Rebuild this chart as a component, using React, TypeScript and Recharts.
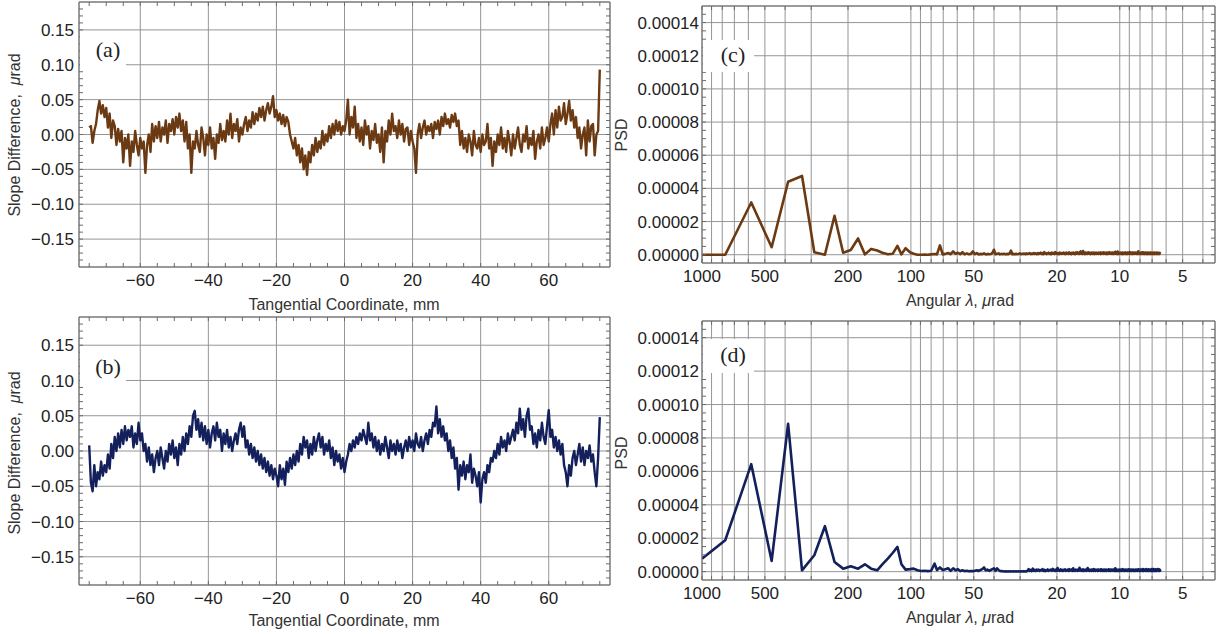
import React from "react";
import { LineChart, Line, XAxis, YAxis, CartesianGrid } from "recharts";

// slope difference profiles, sampled every 0.5 mm from -75 mm
const X_START = -75;
const X_STEP = 0.5;

const slopeA = [
  0.01, 0.012, -0.012, 0.005, 0.015, 0.035, 0.048, 0.03, 0.042, 0.025,
  0.038, 0.01, 0.03, -0.005, 0.02, 0.012, -0.015, 0.008, -0.01, 0.005,
  -0.04, -0.005, -0.02, 0, -0.045, -0.01, -0.025, 0.005, -0.015, -0.03,
  -0.005, -0.02, -0.01, -0.055, -0.015, 0, -0.025, 0.015, -0.01, 0.012,
  -0.005, 0.018, -0.01, 0.01, 0, 0.02, -0.012, 0.015, 0.005, 0.022,
  0, 0.025, 0.01, 0.03, 0.005, 0.02, -0.01, 0.018, -0.02, 0,
  -0.055, -0.01, -0.02, 0.005, -0.015, -0.025, 0.01, -0.005, -0.03, 0,
  -0.015, 0.01, -0.02, -0.005, -0.035, 0, -0.012, 0.015, -0.008, 0.005,
  -0.01, 0.02, 0, 0.03, -0.005, 0.015, 0.005, 0.022, -0.01, 0.01,
  0, 0.015, 0.025, 0.005, 0.02, 0.01, 0.032, 0.015, 0.03, 0.02,
  0.038, 0.025, 0.04, 0.02, 0.035, 0.045, 0.03, 0.04, 0.055, 0.025,
  0.035, 0.02, 0.03, 0.015, 0.028, 0.012, 0.025, 0.018, 0, -0.01,
  -0.02, -0.005, -0.03, -0.015, -0.04, -0.02, -0.05, -0.03, -0.058, -0.025,
  -0.04, -0.015, -0.03, -0.005, -0.025, -0.01, -0.02, 0.005, -0.015, 0,
  -0.01, 0.012, -0.005, 0.015, 0, 0.02, 0.005, 0.018, 0, 0.012,
  0.005, 0.02, 0.05, 0, 0.025, 0.01, 0.04, -0.005, 0.015, -0.01,
  0.01, -0.015, 0.02, 0, 0.012, -0.02, 0.005, -0.008, 0.015, -0.012,
  0, -0.025, 0.01, -0.04, 0.005, -0.01, 0.02, 0, 0.03, 0.005,
  0.012, -0.005, 0.02, 0, 0.015, -0.01, 0.008, 0.01, -0.015, 0.005,
  -0.01, -0.02, -0.055, 0, 0.015, -0.005, 0.01, 0.02, 0, 0.012,
  0.005, 0.015, -0.005, 0.018, 0.008, 0.02, 0, 0.025, 0.012, 0.03,
  0.015, 0.022, 0.01, 0.028, 0.018, 0.03, 0.012, 0.02, -0.015, 0.005,
  -0.02, -0.005, -0.025, 0, -0.01, -0.03, 0.005, -0.015, -0.02, -0.005,
  -0.025, 0, -0.015, -0.01, 0.015, -0.02, -0.005, -0.045, -0.01, -0.025,
  0, -0.015, 0.01, -0.02, -0.005, -0.025, 0.005, -0.01, -0.03, 0,
  -0.02, -0.005, 0.01, -0.015, -0.025, 0, -0.01, 0.012, -0.02, -0.005,
  -0.015, 0.005, -0.035, -0.01, 0, -0.02, 0.01, -0.015, -0.005, 0.01,
  -0.01, 0.015, 0.03, 0, 0.035, 0.01, 0.04, 0.02, 0.025, 0.045,
  0.015, 0.03, 0.048, 0.02, 0.035, 0.01, 0.025, -0.005, 0.01, -0.02,
  0, 0.01, -0.03, 0.02, -0.01, 0.012, 0.015, -0.03, 0, 0.005,
  0.093,
];

const slopeB = [
  0.008, -0.045, -0.057, -0.02, -0.05, -0.03, -0.04, -0.015, -0.035, -0.02,
  -0.03, -0.005, -0.025, 0.01, -0.01, 0.02, 0, 0.025, 0.005, 0.03,
  0.01, 0.035, 0.015, 0.03, 0.02, 0.035, 0.005, 0.025, 0.01, 0.04,
  0.015, 0.025, 0, 0.01, -0.015, 0.005, -0.02, -0.005, -0.03, -0.01,
  0, -0.02, 0.005, -0.01, -0.025, 0, -0.015, 0.01, -0.005, 0.015,
  -0.01, 0.005, -0.02, 0.01, -0.005, 0.02, 0, 0.025, 0.01, 0.035,
  0.02, 0.05, 0.057, 0.03, 0.045, 0.02, 0.04, 0.015, 0.035, 0.01,
  0.03, 0.005, 0.025, 0.035, 0.015, 0.04, 0.02, 0.03, 0, 0.025,
  0.01, 0.03, 0.005, 0.02, 0, 0.015, 0.025, 0.01, 0.03, 0.04,
  0.02, 0.035, 0.005, 0.015, -0.005, 0.01, -0.01, 0.005, -0.015, 0,
  -0.02, -0.005, -0.025, -0.01, -0.03, -0.015, -0.035, -0.02, -0.04, -0.025,
  -0.035, -0.05, -0.02, -0.04, -0.025, -0.048, -0.015, -0.03, -0.01, -0.025,
  -0.005, -0.02, 0, -0.015, 0.01, -0.005, 0.02, 0.005, 0.015, -0.01,
  0.01, -0.005, 0.02, 0, 0.015, 0.025, 0.005, 0.02, -0.005, 0.01,
  0, 0.015, -0.01, 0.005, -0.02, 0, -0.015, -0.005, -0.025, -0.01,
  -0.03, -0.015, -0.005, 0.01, 0, 0.015, 0.005, 0.02, 0.01, 0.025,
  0.015, 0.03, 0.02, 0.01, 0.04, 0.015, 0.025, 0.005, 0.02, 0,
  0.015, -0.005, 0.01, 0, 0.02, 0.005, -0.01, 0.015, 0, 0.01,
  -0.005, 0.015, 0, 0.01, -0.01, 0.005, 0.015, 0, 0.02, 0.005,
  0.015, 0, 0.025, 0.01, 0.005, 0.02, 0, 0.015, 0.025, 0.01,
  0.03, 0.02, 0.04, 0.035, 0.063, 0.025, 0.045, 0.02, 0.035, 0.015,
  0.025, 0, 0.015, -0.01, 0.005, -0.025, -0.01, -0.055, -0.02, -0.035,
  -0.015, -0.04, -0.02, -0.03, -0.005, -0.045, -0.025, -0.035, -0.05, -0.03,
  -0.073, -0.04, -0.03, -0.045, -0.02, -0.03, -0.01, -0.015, 0, -0.01,
  0.01, -0.005, 0.02, 0.005, 0.015, 0, 0.025, 0.01, 0.02, 0.03,
  0.015, 0.04, 0.025, 0.06, 0.03, 0.045, 0.02, 0.05, 0.06, 0.03,
  0.035, 0.01, 0.025, 0.005, 0.03, 0.015, 0.04, 0.02, 0.01, 0.035,
  0.058, 0.02, 0.03, 0.005, 0.02, 0, 0.015, -0.005, 0.01, -0.02,
  -0.03, -0.05, -0.02, -0.035, -0.01, 0, -0.02, -0.005, 0.01, -0.015,
  0.005, -0.02, 0, -0.01, 0.008, -0.015, -0.005, -0.03, -0.05, -0.01,
  0.048,
];

// PSD spectra (values in units of 1e-6), first points read individually
const LAMBDA_HEAD = [
  1000, 774, 581, 464, 387, 332, 290, 258, 232, 211, 194, 179, 166, 155, 145, 137,
  129, 122, 116, 111, 106, 101, 97, 93, 89, 86, 83, 80, 77, 75, 72.6, 70.4,
];
const psdCHead = [
  0, 0, 31.5, 4.5, 44, 47.5, 1.5, 0, 23.5, 1.2, 2.8, 9.8, 0.2, 3.5, 2.5, 1.2,
  0.3, 0.6, 5.3, 0.2, 3.9, 1.5, 0.6, 0, 0, 0.1, 0, 0.2, 0.4, 0.2, 5.6, 0.2,
];
const psdDHead = [
  7.8, 18.8, 64.3, 6.4, 88.5, 0.8, 9.8, 27.2, 5.8, 1.8, 3.2, 1.8, 4.4, 1.8, 0.8, 4.3,
  7.8, 11.3, 14.8, 4.4, 1.2, 1.5, 1.8, 0.8, 0.4, 0.5, 0.3, 0.5, 4.8, 1, 2.5, 1,
];

// tail: harmonics k = 34 .. 363 of the base wavelength
const LAMBDA_BASE = 2322;
const TAIL_K0 = 34;
const psdCTail = [
  0.5, 1, 0.3, 2, 0.5, 1.2, 0.3, 1.5, 0.2, 0.8, 0.3, 0.5, 2, 0.3, 1, 0.2, 0.5, 0.3, 0.8, 0.2, 0.5, 0.3, 0.4, 1, 3, 0.3, 0.5, 0.8, 0.2, 0.5,
  0.3, 0.6, 0.2, 0.5, 0.3, 0.8, 2.5, 0.3, 0.5, 0.2, 0.6, 0.3, 0.5, 0.8, 0.3, 0.6, 0.4, 0.7, 0.3, 0.8, 0.4, 0.6, 1, 0.3, 0.7, 0.4, 1, 0.5, 0.8, 0.3,
  1, 0.4, 0.8, 1.2, 0.5, 1, 0.3, 1.5, 0.6, 1, 0.4, 0.8, 1.2, 0.5, 0.9, 0.3, 1.3, 0.6, 1, 0.4, 1.5, 0.7, 1.1, 0.5, 1, 0.3, 1.2, 0.6, 1, 0.5,
  0.9, 1.3, 0.5, 1, 0.4, 1.2, 0.7, 1, 0.5, 1.4, 0.6, 0.9, 0.3, 1.1, 0.7, 1.3, 0.5, 1, 0.4, 1.2, 0.6, 1.5, 0.8, 1, 0.5, 1.2, 0.7, 2, 0.6, 1,
  0.5, 2.2, 0.8, 1, 0.4, 1.3, 0.7, 1, 0.5, 1.2, 0.6, 1.4, 0.8, 1, 0.4, 1.1, 0.7, 1.3, 0.5, 1, 0.6, 1.2, 0.4, 1, 0.8, 1.3, 0.5, 1, 0.6, 1.1,
  0.5, 1.2, 0.7, 1, 0.4, 1.3, 0.6, 1, 0.8, 1.2, 0.5, 1.4, 0.7, 1, 0.5, 1.1, 0.6, 1.3, 0.4, 1, 0.8, 1.2, 0.5, 1.5, 0.6, 1, 0.7, 1.2, 0.5, 1,
  0.6, 1.3, 0.4, 1, 0.7, 1.2, 0.5, 1.8, 0.6, 1, 0.8, 1.1, 0.4, 1.9, 0.7, 1, 0.5, 1.2, 0.6, 1, 0.8, 1.3, 0.5, 1, 0.7, 1.2, 0.4, 1.1, 0.6, 1,
  0.5, 1.2, 0.7, 1.4, 0.5, 1, 0.8, 1.1, 0.4, 1.3, 0.6, 1, 0.7, 1.2, 0.5, 1.6, 0.6, 1, 0.8, 1.2, 0.5, 1.1, 0.7, 1.3, 0.4, 1, 0.8, 1.2, 0.6, 1,
  0.5, 1.3, 0.7, 1, 0.6, 1.2, 0.4, 1.1, 0.8, 1.3, 0.5, 2, 0.6, 1, 0.7, 1.2, 0.5, 1, 0.8, 1.1, 0.4, 1.3, 0.6, 1, 0.7, 1.5, 0.5, 1, 0.8, 1.2,
  0.4, 1, 0.7, 1.3, 0.5, 1.1, 0.6, 1.2, 0.8, 1, 0.4, 1.3, 0.6, 1, 0.7, 1.1, 0.5, 1.2, 0.8, 1, 0.4, 1.3, 0.6, 1, 0.7, 1.2, 0.5, 1, 0.8, 1.1,
  0.4, 1.2, 0.6, 1, 0.7, 1.3, 0.5, 1.1, 0.8, 1, 0.4, 1.2, 0.6, 0.9, 0.7, 1.3, 0.5, 1, 0.8, 1.1, 0.4, 1.2, 0.6, 1, 0.7, 1.1, 0.5, 1, 0.8, 0.6,
];
const psdDTail = [
  1.5, 2, 0.5, 2, 0.8, 1.5, 0.3, 0.8, 0.3, 0.5, 0.2, 0.4, 0.3, 0.5, 0.8, 0.4, 1, 1.5, 2.5, 0.8, 1.2, 0.5, 1, 1.5, 2, 0.5, 2, 1, 0.4, 0.3,
  0.2, 0.1, 0.2, 0.1, 0.2, 0.1, 0.2, 0.1, 0.2, 0.1, 0.2, 0.1, 0.2, 0.1, 0.2, 0.1, 0.3, 0.1, 0.2, 0.1, 0.5, 1.5, 0.4, 1, 0.3, 1.8, 0.5, 1, 0.4, 1.2,
  0.6, 1.2, 0.4, 1, 0.7, 1.5, 0.5, 1.1, 0.3, 0.9, 0.6, 1.3, 0.4, 1, 0.8, 1.2, 0.5, 1.6, 0.7, 1, 0.4, 1.2, 0.6, 2.2, 0.8, 1, 0.5, 1.3, 0.6, 1,
  0.4, 1.1, 0.7, 1.4, 0.5, 1, 0.8, 1.2, 0.4, 1.5, 0.6, 1, 0.7, 1.3, 0.5, 2, 0.6, 1.1, 0.4, 1.2, 0.8, 1, 0.5, 1.4, 0.6, 2.3, 0.7, 1, 0.5, 1.2,
  0.6, 1.3, 0.4, 1, 0.8, 1.1, 0.5, 1.4, 0.7, 2.1, 0.6, 1, 0.4, 1.2, 0.8, 1, 0.5, 1.3, 0.6, 1.1, 0.4, 1.5, 0.7, 1, 0.5, 1.2, 0.8, 1, 0.4, 1.3,
  0.6, 1, 0.7, 1.2, 0.5, 1.4, 0.8, 1, 0.4, 1.1, 0.6, 1.3, 0.5, 1, 0.7, 1.2, 0.4, 1, 0.8, 1.1, 0.6, 1.4, 0.5, 1, 0.7, 1.2, 0.4, 1.3, 0.6, 1,
  0.8, 1.2, 0.5, 1, 0.6, 1.3, 0.4, 2, 0.7, 1, 0.5, 1.2, 0.8, 1, 0.4, 1.1, 0.6, 1.3, 0.5, 1, 0.7, 1.2, 0.4, 1, 0.8, 1.5, 0.6, 1, 0.5, 1.2,
  0.7, 1, 0.4, 1.3, 0.6, 1.1, 0.8, 1, 0.5, 1.2, 0.4, 1, 0.7, 1.4, 0.6, 1, 0.5, 1.2, 0.8, 1, 0.4, 1.3, 0.6, 1.1, 0.7, 1, 0.5, 1.2, 0.8, 1,
  0.4, 1.1, 0.6, 1.3, 0.5, 1, 0.7, 1.2, 0.4, 1, 0.8, 1.4, 0.6, 1, 0.5, 1.2, 0.7, 1, 0.4, 1.3, 0.6, 1.1, 0.8, 1, 0.5, 1.6, 0.7, 1, 0.4, 1.2,
  0.6, 1, 0.8, 1.3, 0.5, 1.1, 0.4, 1.5, 0.7, 1, 0.6, 1.2, 0.5, 1, 0.8, 1.4, 0.4, 1.1, 0.6, 1, 0.7, 1.3, 0.5, 1, 0.8, 1.2, 0.4, 1.5, 0.6, 1,
  0.5, 1.2, 0.7, 1.6, 0.4, 1, 0.8, 1.3, 0.6, 1, 0.5, 1.4, 0.7, 1.1, 0.4, 1.2, 0.6, 1, 0.8, 1.5, 0.5, 1.1, 0.7, 1, 0.4, 1.3, 0.6, 1.2, 0.5, 1,
];

// ticks
const MM_TICKS = [-60, -40, -20, 0, 20, 40, 60];
const MM_ALL = [-75, -70, -65, -60, -55, -50, -45, -40, -35, -30, -25, -20, -15, -10, -5, 0, 5, 10, 15, 20, 25, 30, 35, 40, 45, 50, 55, 60, 65, 70, 75];
const SLOPE_TICKS = [-0.15, -0.1, -0.05, 0, 0.05, 0.1, 0.15];
const SLOPE_ALL = [
  -0.18, -0.17, -0.16, -0.15, -0.14, -0.13, -0.12, -0.11, -0.1, -0.09, -0.08, -0.07, -0.06, -0.05, -0.04, -0.03, -0.02, -0.01, 0,
  0.01, 0.02, 0.03, 0.04, 0.05, 0.06, 0.07, 0.08, 0.09, 0.1, 0.11, 0.12, 0.13, 0.14, 0.15, 0.16, 0.17, 0.18,
];
const LAMBDA_TICKS = [1000, 500, 200, 100, 50, 20, 10, 5];
const LAMBDA_GRID = [1000, 900, 800, 700, 600, 500, 400, 300, 200, 100, 90, 80, 70, 60, 50, 40, 30, 20, 10, 9, 8, 7, 6, 5, 4];
const PSD_TICKS = [0, 20, 40, 60, 80, 100, 120, 140];
const PSD_ALL = [0, 5, 10, 15, 20, 25, 30, 35, 40, 45, 50, 55, 60, 65, 70, 75, 80, 85, 90, 95, 100, 105, 110, 115, 120, 125, 130, 135, 140, 145];

const BROWN = "#6b3912";
const NAVY = "#13205c";
const GRID = "#959595";
const FRAME = "#6a6a6a";
const FONT = '"Liberation Sans", Arial, sans-serif';
const SERIF = '"Liberation Serif", "Times New Roman", serif';

const slopeData = (vals: number[]) => vals.map((y, i) => ({ x: X_START + i * X_STEP, y }));
const psdData = (head: number[], tail: number[]) => [
  ...head.map((y, i) => ({ x: LAMBDA_HEAD[i], y })),
  ...tail.map((y, i) => ({ x: LAMBDA_BASE / (TAIL_K0 + i), y })),
];

const near = (list: number[], v: number) => list.some((t) => Math.abs(t - v) < 1e-9);
const minus = (s: string) => s.replace("-", "\u2212");
const fmtMM = (v: number) => (near(MM_TICKS, v) ? minus(String(v)) : "");
const fmtSlope = (v: number) => (near(SLOPE_TICKS, v) ? minus(Math.abs(v) < 1e-9 ? "0.00" : v.toFixed(2)) : "");
const fmtPsd = (v: number) => (near(PSD_TICKS, v) ? (v * 1e-6).toFixed(5) : "");
const fmtLambda = (v: number) => (near(LAMBDA_TICKS, v) ? String(v) : "");
const blank = () => "";

const tickText = { fontSize: 17, fill: "#222", fontFamily: FONT };
const AX_H = 30; // height of the labelled bottom axis
const AX_W = 60; // width of the labelled left axis

interface PanelProps {
  left: number;
  top: number;
  width: number;
  height: number;
  frame: { top: number; right: number; bottom: number; left: number };
  data: { x: number; y: number }[];
  color: string;
  strokeWidth: number;
  log?: boolean;
  xDomain: [number, number];
  yDomain: [number, number];
  xAll: number[];
  xGrid: number[];
  yAll: number[];
  yGrid: number[];
  xFormat: (v: number) => string;
  yFormat: (v: number) => string;
  yGap: number;
}

function Panel(p: PanelProps) {
  const xCommon = {
    dataKey: "x",
    type: "number" as const,
    scale: p.log ? ("log" as const) : ("linear" as const),
    domain: p.xDomain,
    allowDataOverflow: true,
    reversed: !!p.log,
    interval: 0 as const,
    stroke: FRAME,
  };
  const yCommon = {
    type: "number" as const,
    domain: p.yDomain,
    allowDataOverflow: true,
    interval: 0 as const,
    stroke: FRAME,
  };
  // margins are the frame insets minus the space the visible axes take
  const margin = {
    top: p.frame.top - 1,
    right: p.frame.right - 1,
    bottom: p.frame.bottom - AX_H,
    left: p.frame.left - AX_W,
  };
  return (
    <div style={{ position: "absolute", left: p.left, top: p.top }}>
      <LineChart width={p.width} height={p.height} data={p.data} margin={margin}>
        <CartesianGrid xAxisId="xg" yAxisId="yg" stroke={GRID} strokeWidth={1} fill="none" />
        <XAxis {...xCommon} xAxisId="xl" height={AX_H} ticks={p.xAll} tickSize={-4} tickMargin={11} tick={tickText} tickFormatter={p.xFormat} />
        <XAxis {...xCommon} xAxisId="xg" height={0} ticks={p.xGrid} />
        <XAxis {...xCommon} xAxisId="xt" orientation="top" height={1} ticks={p.xAll} tickSize={-4} tickFormatter={blank} />
        <YAxis {...yCommon} yAxisId="yl" width={AX_W} ticks={p.yAll} tickSize={-4} tickMargin={p.yGap + 4} tick={tickText} tickFormatter={p.yFormat} />
        <YAxis {...yCommon} yAxisId="yg" width={0} ticks={p.yGrid} />
        <YAxis {...yCommon} yAxisId="yr" orientation="right" width={1} ticks={p.yAll} tickSize={-4} tickFormatter={blank} />
        <Line
          xAxisId="xl"
          yAxisId="yl"
          type="linear"
          dataKey="y"
          stroke={p.color}
          strokeWidth={p.strokeWidth}
          strokeLinejoin="round"
          dot={false}
          isAnimationActive={false}
        />
      </LineChart>
    </div>
  );
}

const titleStyle: React.CSSProperties = {
  position: "absolute",
  fontFamily: FONT,
  fontSize: 16,
  color: "#333",
  whiteSpace: "nowrap",
  transform: "translate(-50%, -50%)",
};

function Title({ x, y, rotate, children }: { x: number; y: number; rotate?: boolean; children: React.ReactNode }) {
  return (
    <div style={{ ...titleStyle, left: x, top: y, transform: rotate ? "translate(-50%, -50%) rotate(-90deg)" : titleStyle.transform }}>
      {children}
    </div>
  );
}

function Tag({ box, x, y, text }: { box: [number, number, number, number]; x: number; y: number; text: string }) {
  return (
    <>
      <div style={{ position: "absolute", left: box[0], top: box[1], width: box[2], height: box[3], background: "#fff" }} />
      <div style={{ ...titleStyle, left: x, top: y, fontFamily: SERIF, fontSize: 22, color: "#222" }}>{text}</div>
    </>
  );
}

const slopeTitle = (
  <>
    Slope Difference,{"\u00a0\u00a0"}
    <i>μ</i>rad
  </>
);
const lambdaTitle = (
  <>
    Angular <i>λ</i>, <i>μ</i>rad
  </>
);

export default function App() {
  const slopeProps = {
    width: 612,
    strokeWidth: 2.4,
    xDomain: [-78, 78] as [number, number],
    yDomain: [-0.19, 0.19] as [number, number],
    xAll: MM_ALL,
    xGrid: MM_TICKS,
    yAll: SLOPE_ALL,
    yGrid: SLOPE_TICKS,
    xFormat: fmtMM,
    yFormat: fmtSlope,
    yGap: 5,
  };
  const psdProps = {
    width: 613,
    left: 612,
    strokeWidth: 2.6,
    log: true,
    xDomain: [3.5, 1000] as [number, number],
    yDomain: [-5, 150] as [number, number],
    xAll: LAMBDA_GRID,
    xGrid: LAMBDA_GRID,
    yAll: PSD_ALL,
    yGrid: PSD_TICKS,
    xFormat: fmtLambda,
    yFormat: fmtPsd,
    yGap: 3,
  };
  return (
    <div style={{ position: "absolute", left: 0, top: 0, width: 1225, height: 636, background: "#fff", overflow: "hidden" }}>
      <Panel {...slopeProps} left={0} top={0} height={318} frame={{ top: 2, right: 2, bottom: 51, left: 79 }} data={slopeData(slopeA)} color={BROWN} />
      <Panel {...slopeProps} left={0} top={314} height={322} frame={{ top: 3, right: 2, bottom: 51, left: 79 }} data={slopeData(slopeB)} color={NAVY} />
      <Panel {...psdProps} top={0} height={318} frame={{ top: 6, right: 10, bottom: 55, left: 90 }} data={psdData(psdCHead, psdCTail)} color={BROWN} />
      <Panel {...psdProps} top={318} height={318} frame={{ top: 3, right: 10, bottom: 56, left: 90 }} data={psdData(psdDHead, psdDTail)} color={NAVY} />

      <Title x={344} y={305}>Tangential Coordinate, mm</Title>
      <Title x={344} y={621}>Tangential Coordinate, mm</Title>
      <Title x={15} y={135} rotate>{slopeTitle}</Title>
      <Title x={15} y={453} rotate>{slopeTitle}</Title>
      <Title x={960} y={301}>{lambdaTitle}</Title>
      <Title x={960} y={618}>{lambdaTitle}</Title>
      <Title x={622} y={135} rotate>PSD</Title>
      <Title x={622} y={453} rotate>PSD</Title>

      <Tag box={[80, 33, 46, 34]} x={108} y={50} text="(a)" />
      <Tag box={[80, 350, 46, 34]} x={108} y={367} text="(b)" />
      <Tag box={[703, 40, 51, 32]} x={733} y={55} text="(c)" />
      <Tag box={[703, 339, 51, 34]} x={733} y={355} text="(d)" />
    </div>
  );
}
